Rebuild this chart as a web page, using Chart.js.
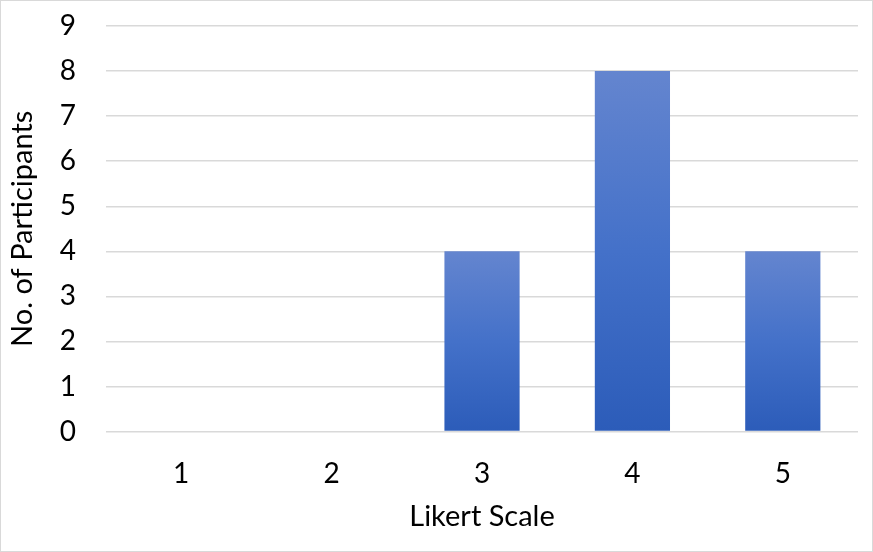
<!DOCTYPE html>
<html>
<head>
<meta charset="utf-8">
<script src="https://cdn.jsdelivr.net/npm/chart.js@4"></script>
<style>
    body { margin: 0; background: #fff; }
    #okvir { width: 873px; height: 552px; box-sizing: border-box; border: 1px solid #d9d9d9; position: relative; }
</style>
</head>
<body>
<div id="okvir"><canvas id="grafik"></canvas></div>
<script>
const kategorije = ["1", "2", "3", "4", "5"];
const brojUcesnika = [0, 0, 4, 8, 4];
const yTickovi = [0, 1, 2, 3, 4, 5, 6, 7, 8, 9];

const font = "Lato, 'Open Sans', sans-serif";

function gradijentStubca(context) {
    let chart = context.chart;
    if (!chart.chartArea || !chart.scales.y) {
        return "#3f6fc6";
    }
    let y = chart.scales.y;
    let vrh = y.getPixelForValue(context.raw || 0);
    let dno = y.getPixelForValue(0);
    if (vrh === dno) vrh = dno - 1;
    let g = chart.ctx.createLinearGradient(0, vrh, 0, dno);
    g.addColorStop(0, "#6485cf");
    g.addColorStop(0.5, "#4471c9");
    g.addColorStop(1, "#2c5cb9");
    return g;
}

new Chart(document.getElementById("grafik"), {
    type: 'bar',
    data: {
        labels: kategorije,
        datasets: [{
            label: 'No. of Participants',
            data: brojUcesnika,
            backgroundColor: gradijentStubca,
            borderWidth: 0,
            categoryPercentage: 1,
            barPercentage: 0.5
        }]
    },
    options: {
        responsive: true,
        maintainAspectRatio: false,
        animation: false,
        layout: {
            padding: { top: 25, right: 14, left: 4, bottom: 17 }
        },
        plugins: {
            legend: { display: false },
            tooltip: { enabled: false }
        },
        scales: {
            x: {
                grid: { display: false, drawTicks: false },
                border: { display: false },
                ticks: {
                    color: '#000',
                    font: { family: font, size: 28 },
                    padding: 26
                },
                title: {
                    display: true,
                    text: 'Likert Scale',
                    color: '#000',
                    font: { family: font, size: 29 },
                    padding: { top: -18, bottom: 0 }
                }
            },
            y: {
                min: 0,
                max: 9,
                afterBuildTicks: axis => {
                    axis.ticks = yTickovi.map(v => ({ value: v }));
                },
                afterFit: axis => {
                    // tick padding ne treba dodavati gore i dolje
                    axis.paddingTop = 0;
                    axis.paddingBottom = 0;
                },
                grid: { color: '#d9d9d9', lineWidth: 1.5, drawTicks: false },
                border: { display: false },
                ticks: {
                    color: '#000',
                    font: { family: font, size: 28 },
                    padding: 30
                },
                title: {
                    display: true,
                    text: 'No. of Participants',
                    color: '#000',
                    font: { family: font, size: 29 },
                    padding: { top: 0, bottom: -10 }
                }
            }
        }
    }
});
</script>
</body>
</html>
